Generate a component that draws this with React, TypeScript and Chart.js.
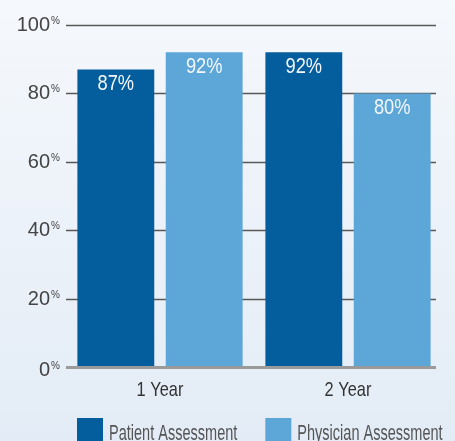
import React, { useEffect, useRef } from 'react';
import { Chart, registerables } from 'chart.js';

Chart.register(...registerables);

const categories = ['1 Year', '2 Year'];
const patientValues = [87, 92];
const physicianValues = [92, 80];
const seriesNames = ['Patient Assessment', 'Physician Assessment'];
const seriesColors = ['#045d9d', '#5ca6d8'];
const yTicks = [0, 20, 40, 60, 80, 100];

const FONT = '"Liberation Sans", Arial, sans-serif';

function narrowText(
  ctx: CanvasRenderingContext2D,
  text: string,
  x: number,
  y: number,
  align: CanvasTextAlign,
  size: number,
  squeeze: number
) {
  ctx.save();
  ctx.font = `${size}px ${FONT}`;
  ctx.textAlign = align;
  ctx.textBaseline = 'alphabetic';
  ctx.translate(x, y);
  ctx.scale(squeeze, 1);
  ctx.fillText(text, 0, 0);
  const w = ctx.measureText(text).width * squeeze;
  ctx.restore();
  return w;
}

const decor = {
  id: 'decor',
  beforeDatasetsDraw(chart: any) {
    const { ctx, chartArea, scales } = chart;
    const y = scales.y;
    ctx.save();
    yTicks.forEach((v) => {
      if (v === 0) return;
      const py = Math.round(y.getPixelForValue(v)) + 0.5;
      ctx.beginPath();
      ctx.strokeStyle = '#585858';
      ctx.lineWidth = 1.5;
      ctx.moveTo(chartArea.left, py);
      ctx.lineTo(chartArea.right - 6, py);
      ctx.stroke();
    });
    ctx.restore();
  },
  afterDatasetsDraw(chart: any) {
    const { ctx, chartArea, scales } = chart;
    const y = scales.y;
    const x = scales.x;
    ctx.save();
    const p0 = y.getPixelForValue(0) + 0.5;
    ctx.beginPath();
    ctx.strokeStyle = '#9a9a9a';
    ctx.lineWidth = 3;
    ctx.moveTo(chartArea.left, p0);
    ctx.lineTo(chartArea.right - 6, p0);
    ctx.stroke();

    ctx.fillStyle = '#f4f8fc';
    chart.data.datasets.forEach((ds: any, di: number) => {
      const meta = chart.getDatasetMeta(di);
      meta.data.forEach((el: any, i: number) => {
        narrowText(ctx, `${ds.data[i]}%`, el.x, el.y + 21, 'center', 21.5, 0.85);
      });
    });

    yTicks.forEach((v) => {
      const py = y.getPixelForValue(v) + (v === 0 ? 9 : 6);
      ctx.fillStyle = '#444';
      ctx.textAlign = 'right';
      ctx.textBaseline = 'alphabetic';
      ctx.font = `20px ${FONT}`;
      ctx.fillText(String(v), chartArea.left - 16, py);
      ctx.textAlign = 'left';
      ctx.font = `10px ${FONT}`;
      ctx.fillText('%', chartArea.left - 15, py - 7);
    });

    ctx.fillStyle = '#333';
    categories.forEach((c, i) => {
      narrowText(ctx, c, x.getPixelForValue(i), chartArea.bottom + 29, 'center', 21, 0.78);
    });

    let lx = chartArea.left + 11;
    const boxTop = chartArea.bottom + 51;
    seriesNames.forEach((name, i) => {
      ctx.fillStyle = seriesColors[i];
      ctx.fillRect(lx, boxTop, 26, 26);
      ctx.fillStyle = '#555';
      const w = narrowText(ctx, name, lx + 32, chartArea.bottom + 72.5, 'left', 22, 0.66);
      lx += 32 + w + 28;
    });
    ctx.restore();
  },
};

export default function App() {
  const ref = useRef<HTMLCanvasElement | null>(null);
  useEffect(() => {
    if (!ref.current) return;
    const chart = new Chart(ref.current, {
      type: 'bar',
      data: {
        labels: categories,
        datasets: [
          {
            label: seriesNames[0],
            data: patientValues,
            backgroundColor: seriesColors[0],
            categoryPercentage: 0.94,
            barPercentage: 0.87,
          },
          {
            label: seriesNames[1],
            data: physicianValues,
            backgroundColor: seriesColors[1],
            categoryPercentage: 0.94,
            barPercentage: 0.87,
          },
        ],
      },
      options: {
        responsive: false,
        animation: false,
        layout: { padding: { left: 66, right: 13, top: 25, bottom: 74 } },
        plugins: { legend: { display: false }, tooltip: { enabled: false } },
        scales: {
          x: { display: false },
          y: { display: false, min: 0, max: 100 },
        },
      },
      plugins: [decor],
    });
    return () => chart.destroy();
  }, []);
  return (
    <div
      style={{
        position: 'fixed',
        left: 0,
        top: 0,
        width: 455,
        height: 441,
        overflow: 'hidden',
        background: 'linear-gradient(to bottom, #f5f8fc 0%, #e3ecf6 100%)',
      }}
    >
      <canvas ref={ref} width={455} height={441} style={{ display: 'block' }} />
    </div>
  );
}
